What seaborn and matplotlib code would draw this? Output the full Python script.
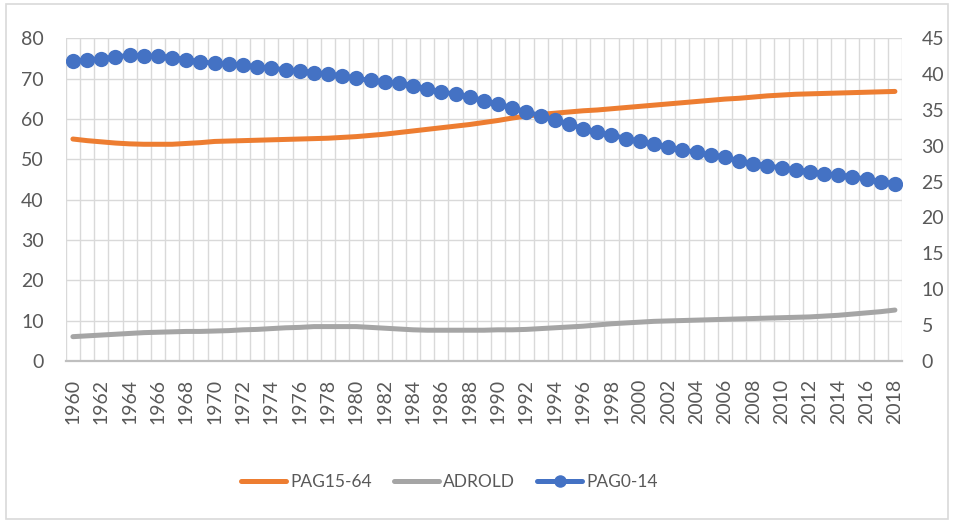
import numpy as np
import pandas as pd
import matplotlib
matplotlib.use("Agg")
import matplotlib.pyplot as plt
from matplotlib.lines import Line2D
from matplotlib.patches import FancyBboxPatch
import seaborn as sns

# Data
years = list(range(1960, 2019))
pag15_64 = [55.0, 54.6, 54.3, 54.0, 53.8, 53.7, 53.7, 53.7, 53.9, 54.1,
            54.4, 54.5, 54.6, 54.7, 54.8, 54.9, 55.0, 55.1, 55.2, 55.4,
            55.6, 55.9, 56.2, 56.6, 57.0, 57.4, 57.8, 58.2, 58.6, 59.1,
            59.6, 60.2, 60.7, 61.1, 61.4, 61.7, 62.0, 62.2, 62.5, 62.8,
            63.1, 63.4, 63.7, 64.0, 64.3, 64.6, 64.9, 65.1, 65.4, 65.7,
            65.9, 66.1, 66.2, 66.3, 66.4, 66.5, 66.6, 66.7, 66.8]
adrold = [6.0, 6.2, 6.4, 6.6, 6.8, 7.0, 7.1, 7.2, 7.3, 7.3,
          7.4, 7.5, 7.7, 7.8, 8.0, 8.2, 8.3, 8.5, 8.5, 8.5,
          8.5, 8.3, 8.1, 7.9, 7.7, 7.6, 7.6, 7.6, 7.6, 7.6,
          7.7, 7.7, 7.8, 8.0, 8.2, 8.4, 8.6, 8.9, 9.2, 9.4,
          9.6, 9.8, 9.9, 10.0, 10.1, 10.2, 10.3, 10.4, 10.5, 10.6,
          10.7, 10.8, 10.9, 11.1, 11.3, 11.6, 11.9, 12.2, 12.6]
pag0_14 = [41.8, 42.0, 42.1, 42.4, 42.6, 42.55, 42.5, 42.3, 42.0, 41.7,
           41.5, 41.4, 41.2, 41.0, 40.8, 40.6, 40.45, 40.2, 40.0, 39.7,
           39.4, 39.1, 38.9, 38.7, 38.4, 37.9, 37.5, 37.2, 36.8, 36.3,
           35.8, 35.3, 34.7, 34.2, 33.6, 33.0, 32.4, 31.9, 31.5, 31.0,
           30.6, 30.2, 29.8, 29.4, 29.1, 28.7, 28.4, 27.9, 27.5, 27.2,
           26.9, 26.6, 26.4, 26.1, 25.9, 25.7, 25.3, 25.0, 24.7]

df = pd.DataFrame({"idx": np.arange(len(years)), "year": years,
                   "PAG15-64": pag15_64, "ADROLD": adrold, "PAG0-14": pag0_14})

c_orange = "#ED7D31"
c_gray = "#A5A5A5"
c_blue = "#4472C4"
txt = "#595959"

sns.set_theme(style="white")
plt.rcParams["font.family"] = ["Lato", "DejaVu Sans"]

fig = plt.figure(figsize=(9.54, 5.23), dpi=100)
ax = fig.add_axes([0.069, 0.310, 0.8765, 0.617])
ax2 = ax.twinx()

sns.lineplot(data=df, x="idx", y="PAG15-64", color=c_orange, linewidth=3.6,
             ax=ax, legend=False, zorder=3, solid_capstyle="round")
sns.lineplot(data=df, x="idx", y="ADROLD", color=c_gray, linewidth=3.6,
             ax=ax, legend=False, zorder=3, solid_capstyle="round")
sns.lineplot(data=df, x="idx", y="PAG0-14", color=c_blue, linewidth=3.6,
             marker="o", markersize=11, markeredgewidth=0,
             ax=ax2, legend=False, zorder=3)

n = len(years)
ax.set_xlim(-0.5, n - 0.5)
ax.set_ylim(0, 80)
ax2.set_ylim(0, 45)
ax.set_yticks(range(0, 81, 10))
ax2.set_yticks(range(0, 46, 5))
ax.set_xticks(range(0, n, 2))
ax.set_xticklabels([str(y) for y in years[::2]], rotation=90)
ax.set_xticks(np.arange(-0.5, n, 1), minor=True)

ax.grid(True, which="major", axis="y", color="#d9d9d9", linewidth=1)
ax.grid(True, which="minor", axis="x", color="#d9d9d9", linewidth=1)
ax.grid(False, which="major", axis="x")
ax.set_axisbelow(True)

for a in (ax, ax2):
    a.set_xlabel("")
    a.set_ylabel("")
    for s in a.spines.values():
        s.set_visible(False)
    a.tick_params(length=0, which="both", labelsize=14, labelcolor=txt)
ax.spines["bottom"].set_visible(True)
ax.spines["bottom"].set_color("#bfbfbf")
ax.spines["bottom"].set_linewidth(1.6)
ax.tick_params(axis="y", pad=16)
ax.tick_params(axis="x", pad=13)
ax2.tick_params(axis="y", pad=14)
ax2.grid(False)

handles = [Line2D([], [], color=c_orange, linewidth=3.6, solid_capstyle="round"),
           Line2D([], [], color=c_gray, linewidth=3.6, solid_capstyle="round"),
           Line2D([], [], color=c_blue, linewidth=3.6, marker="o",
                  markersize=9, markeredgewidth=0, solid_capstyle="round")]
fig.legend(handles, ["PAG15-64", "ADROLD", "PAG0-14"], loc="center",
           bbox_to_anchor=(0.471, 0.078), ncol=3, frameon=False,
           fontsize=12.5, labelcolor=txt, handlelength=2.6,
           handletextpad=0.2, columnspacing=1.3)

fig.patches.append(FancyBboxPatch((0.006, 0.008), 0.988, 0.984,
                                  boxstyle="square,pad=0", transform=fig.transFigure,
                                  fill=False, edgecolor="#d9d9d9", linewidth=1.2))

fig.savefig("out.png", dpi=100, facecolor="white")
